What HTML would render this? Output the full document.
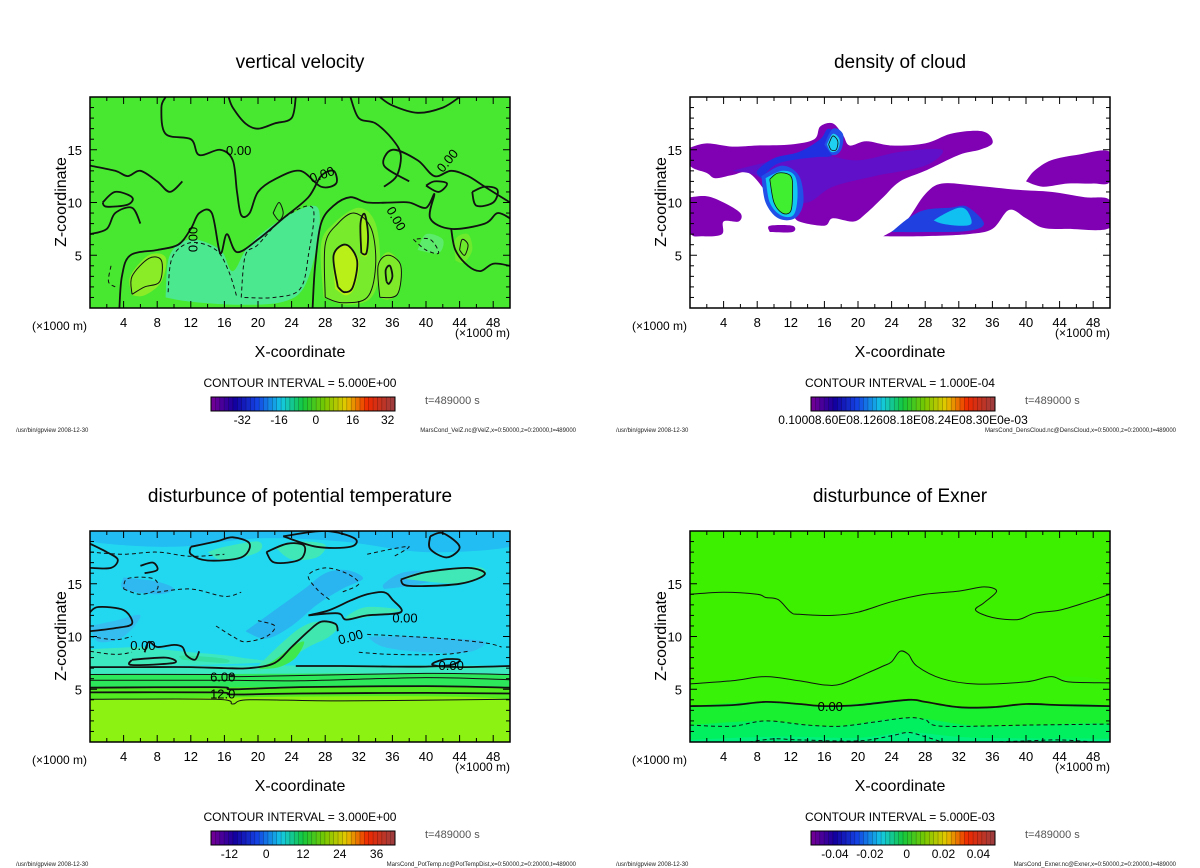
<!DOCTYPE html>
<html><head><meta charset="utf-8"><style>
body{margin:0;background:#fff;width:1200px;height:868px;overflow:hidden;font-family:"Liberation Sans",sans-serif}
svg{position:absolute;left:0;top:0}
</style></head><body>
<svg id="chart" width="1200" height="868" viewBox="0 0 1200 868" xmlns="http://www.w3.org/2000/svg"></svg>
<script>
// ---- data arrays ----
const xTicks=[4,8,12,16,20,24,28,32,36,40,44,48];
const zTicks=[5,10,15];
const titles=["vertical velocity","density of cloud","disturbunce of potential temperature","disturbunce of Exner"];
const intervals=["CONTOUR INTERVAL = 5.000E+00","CONTOUR INTERVAL = 1.000E-04","CONTOUR INTERVAL = 3.000E+00","CONTOUR INTERVAL = 5.000E-03"];
const cbLabels=[["-32","-16","0","16","32"],["0.10008.60E08.12608.18E08.24E08.30E0e-03"],["-12","0","12","24","36"],["-0.04","-0.02","0","0.02","0.04"]];
const cbLabelPos=[[0.17,0.37,0.57,0.77,0.96],[0.5],[0.1,0.3,0.5,0.7,0.9],[0.13,0.32,0.52,0.72,0.91]];
const files=["MarsCond_VelZ.nc@VelZ,x=0:50000,z=0:20000,t=489000","MarsCond_DensCloud.nc@DensCloud,x=0:50000,z=0:20000,t=489000","MarsCond_PotTemp.nc@PotTempDist,x=0:50000,z=0:20000,t=489000","MarsCond_Exner.nc@Exner,x=0:50000,z=0:20000,t=489000"];
const offsets=[[0,0],[600,0],[0,434],[600,434]];

const velFills=[
 {c:"#4ce890",p:[[9,1],[9.5,5],[12,6.5],[15.5,5.5],[17,3.5],[19,6],[23,8.5],[27,9.6],[27,6],[25.5,2],[23,0.6],[18,0.3],[12,0.6]]},
 {c:"#78ec2c",p:[[27.8,1],[27.5,6],[29,8],[32,9.5],[34,8],[34.5,4],[33.5,1],[30.5,0.3]]},
 {c:"#b8f018",p:[[29.2,1.8],[29,5],[30.5,6],[32,4.5],[31.5,2],[30.5,1.2]]},
 {c:"#a8ef1a",p:[[32.3,5],[32.1,8],[32.7,9],[33.2,7],[33,5]]},
 {c:"#7eea2a",p:[[34.5,1],[34.3,4],[35.5,5.3],[37,4],[36.7,1.5],[35.5,0.8]]},
 {c:"#8aec26",p:[[5,1.2],[4.8,3],[7,5],[9,4.8],[8.5,2.5],[6.5,1.2]]},
 {c:"#6eea2c",p:[[43.5,4.5],[43.5,6.5],[45,7],[45.5,5.5],[44.5,4.3]]},
 {c:"#5ceb6a",p:[[39,5.5],[40,7],[42,6.5],[41.5,5.2]]}
];
const velLines=[
 {d:0,w:1.8,p:[[3.5,0],[3.8,3],[4.8,5],[8,5.5],[10.5,6],[12,7.5],[13,9],[14.5,9],[15.5,5.2],[16.3,7],[17.5,5.3],[20,6.5],[23,8.5],[26,10.5],[27.5,12.5],[29,13],[29.3,11.8],[27.5,11.5],[25,13],[22,12.2],[20,11],[19,9],[18,8.8],[17.5,11],[17,14],[15.5,15],[13,14.5],[12,16],[9,16.5],[8.5,19],[9,20]]},
 {d:0,w:1.8,p:[[26.5,0],[26.8,4],[27.5,8],[29,9.7],[31,10.5],[33,10],[36,10],[38,10],[40,9.5],[41,10.8],[40.5,8.5],[43,7.5],[47,8],[48.5,9],[50,8.5]]},
 {d:0,w:1.8,p:[[50,4],[48,4.2],[46.5,3.5],[45,4],[43.5,5.5],[43,7.5]]},
 {d:0,w:1.8,p:[[0,13.5],[3,13],[4.5,12.5],[6,13],[8,12],[9.5,11],[11,12]]},
 {d:0,w:1.8,p:[[31,20],[32,18],[34,17.5],[36,16],[37,14.5],[36.5,12.5],[35,11.5]]},
 {d:0,w:1.8,p:[[50,10],[47,11.5],[45,12.5],[43,13],[41,12.5],[39,14],[36,15],[35,13.5],[38,12]]},
 {d:0,w:1.8,p:[[24.5,20],[24,18],[22,17.5],[20,17],[18.5,17.5],[17,19],[16.5,20]]},
 {d:0,w:1.8,p:[[44,20],[42,19],[39,18.5],[36,19.2],[34.5,20]]},
 {d:0,w:1.8,p:[[0,7],[2,7.5],[3,9],[5,9.5],[6,8]]},
 {d:0,w:1.8,p:[[1.5,10],[3,11],[5,10.5],[4.5,9.8],[2,9.6],[1.5,10]]},
 {d:0,w:1.8,p:[[29.5,2],[29,5],[30.5,6],[31.8,4.5],[31.3,2],[30.3,1.5],[29.5,2]]},
 {d:0,w:1.8,p:[[32.3,5.2],[32.2,8],[32.7,8.9],[33.1,7],[32.9,5.2],[32.3,5.2]]},
 {d:0,w:1.8,p:[[35.3,2.5],[35.2,3.6],[35.7,4],[36,3],[35.6,2.3],[35.3,2.5]]},
 {d:0,w:1.8,p:[[40,11.6],[41,12],[42.5,11.8],[41.5,11],[40,11.6]]},
 {d:0,w:1.8,p:[[45.5,11],[47,11.5],[48.5,11.2],[48,10],[46,9.7],[45.5,11]]},
 {d:1,w:1,p:[[9.3,1.5],[9.8,4.8],[12,6.2],[15,5.5],[16.5,3.5],[17.5,1]]},
 {d:1,w:1,p:[[18,1],[18.5,5],[20,6],[23,8.5],[26.5,9.5],[26,5],[25,1.8],[22,1],[18,1]]},
 {d:1,w:1,p:[[38.5,6.5],[40,5.5],[41.5,5.2],[40.5,6.5],[38.5,6.5]]},
 {d:1,w:1,p:[[2.5,4],[2.2,2.5],[3,2]]},
 {d:0,w:1,p:[[5,1.3],[5,3],[7,4.7],[8.5,4.5],[8.3,2.5],[6.5,2],[5,1.3]]},
 {d:0,w:1,p:[[28,1],[28,6],[29.5,8],[31.5,9],[33.5,7.5],[34,4],[33,1],[30,0.5],[28,1]]},
 {d:0,w:1,p:[[34.5,1],[34.3,4],[35.5,5],[37,4],[36.6,1.3],[34.5,1]]},
 {d:0,w:1,p:[[44,5.5],[44.3,6.5],[45,6],[44.6,5],[44,5.5]]},
 {d:0,w:1,p:[[21.8,9],[22.5,10],[23,9],[22.5,8.3],[21.8,9]]}
];
const velLabels=[[17.7,15,"0.00",0],[27.6,12.7,"0.00",-20],[12.2,6.5,"0.00",-90],[36.5,8.5,"0.00",60],[42.5,14,"0.00",-50]];

const cloudFills=[
 {c:"#8000b4",p:[[0,15.2],[0,13.5],[2,12.8],[3,12.3],[5,12.6],[7,12.8],[9,11],[10,9.3],[12,9],[13,8.2],[16,7.8],[17,8.5],[19.5,8.2],[21,9],[23,10.5],[25,12],[28,13],[32,14.5],[34.5,15],[36,15.6],[35.5,16.5],[34,16.8],[31,16.5],[28,15.6],[24,15.4],[21,15.8],[19,15.4],[18.2,16.4],[17,17.5],[15.5,17.2],[14.8,16],[12,15.5],[8,15.4],[5,15.3],[2,15.6]]},
 {c:"#8000b4",p:[[0,10.5],[2,10.6],[4,10],[6,9],[5.8,8.2],[4,8.2],[3.8,7],[1.5,6.8],[0,7.2]]},
 {c:"#8000b4",p:[[9.5,7.2],[9.5,7.8],[12.2,7.8],[12.2,7.2]]},
 {c:"#8000b4",p:[[23,6.8],[24.5,7.5],[26,8.5],[28,10.8],[30,11.8],[34,11.6],[39,11.2],[43,11],[47,10.5],[50,10.2],[50,7.6],[45,7.5],[42,7.6],[40,8.5],[38,9.3],[36,7.5],[33,7],[27,6.8]]},
 {c:"#8000b4",p:[[40,12],[41,13],[43,14],[46,14.5],[50,14.8],[50,12],[48,11.8],[45,11.8],[42,11.5]]},
 {c:"#6010c8",p:[[5,13],[9,13.8],[13,14.5],[16,14.5],[20,14],[25,14.8],[30,15],[28,13.5],[22,12.5],[17,11.5],[14,10],[11,10.5],[8,12.5]]},
 {c:"#2030e0",p:[[8.5,12.3],[10,13.5],[12,14],[15,14.3],[17,14.5],[18,16],[16.5,17],[15.5,16],[13,14.8],[10,14.2],[8,13]]},
 {c:"#2050e8",p:[[8.5,12.5],[9,10],[10.5,8.5],[12.5,8.5],[13.5,10],[13,12.5],[11,13.5]]},
 {c:"#10c8f0",p:[[9,12.3],[9.5,10],[10.8,8.8],[12.3,8.8],[12.8,10.5],[12.5,12.5],[11,13]]},
 {c:"#40f030",p:[[9.5,12.2],[10,10],[11,9],[12,9.2],[12.2,11],[12,12.5],[10.5,12.8]]},
 {c:"#2050e8",p:[[16,15.5],[17,17],[18.2,16.5],[18,15],[17,14.5]]},
 {c:"#20d0f0",p:[[16.3,15.5],[17,16.5],[17.8,16],[17.6,15],[16.8,14.8]]},
 {c:"#2040e0",p:[[24,7.2],[26,8.5],[28,9.3],[31,9.5],[33,9.6],[35,8],[33,7.3],[28,7.2]]},
 {c:"#10c0f0",p:[[29,8.3],[30,8.8],[32,9.5],[33,9.2],[33.5,8],[32,7.8],[30,8]]}
];
const cloudLines=[
 {d:0,w:0.8,p:[[9.5,12.2],[10,10],[11,9],[12,9.2],[12.2,11],[12,12.5],[10.5,12.8],[9.5,12.2]]},
 {d:0,w:0.8,p:[[16.5,15.5],[17,16.3],[17.6,15.8],[17.4,15],[16.8,15],[16.5,15.5]]}
];

const ptFills=[
 {c:"#22bdf2",p:[[0,20],[50,20],[50,18.5],[40,18],[30,19],[20,19.3],[10,18.5],[0,19]]},
 {c:"#2ab4f0",p:[[18.5,10.5],[22,12.5],[25.5,14.5],[28,16],[30.5,16.3],[32.5,15.5],[30,14.5],[27,13],[24,11],[21,9.8]]},
 {c:"#30b8f0",p:[[4,15.6],[8,15.2],[10,14.5],[8,14],[4,14.5]]},
 {c:"#30b8f0",p:[[35,14.5],[38,14.8],[42,15.5],[40,16.2],[37,16],[35,15]]},
 {c:"#35bdf0",p:[[33,10],[38,10],[43,9.8],[47,9.5],[45,8.5],[40,8.5],[35,9]]},
 {c:"#35bdf0",p:[[0,11],[3,11.5],[6,12],[4,10],[1,9.5]]},
 {c:"#3ce8c0",p:[[0,8.8],[6,9],[8.5,8.8],[12,8.5],[15,8.3],[18,8],[20,7.5],[0,7.2]]},
 {c:"#36e0a0",p:[[11,7.8],[16,7.5],[16,7.9],[11,8.2]]},
 {c:"#3ce8c0",p:[[0,7.2],[50,7.2],[50,6.4],[0,6.4]]},
 {c:"#2de85a",p:[[0,6.4],[50,6.4],[50,5.15],[0,5.15]]},
 {c:"#52eb22",p:[[0,5.15],[50,5.15],[50,4.05],[0,4.05]]},
 {c:"#8cf212",p:[[0,4.05],[50,4.05],[50,0],[0,0]]},
 {c:"#40e8b0",p:[[19.5,6.8],[21,8],[23,9.5],[25,10.8],[27,11.4],[29.5,11.1],[28.5,10],[26,9],[23,7.6],[20.5,6.8]]},
 {c:"#40e850",p:[[20,6.9],[22,7.8],[24,9],[25.5,9.5],[24.5,8],[22.5,7.1]]},
 {c:"#40e8b8",p:[[14,18],[16,18.5],[20,19],[20,18],[16,17.2]]},
 {c:"#40e8b8",p:[[22,18.5],[25,19],[28,18.7],[27,17.5],[24,17.3]]},
 {c:"#40e8b8",p:[[37,15.5],[40,16.2],[46,16.6],[47,15.8],[44,15]]},
 {c:"#40e8b8",p:[[30.5,11.5],[34,12],[37,12.5],[33,12.8],[30.7,12]]},
 {c:"#40e8b8",p:[[5,7.8],[9,8],[10,7.5],[5,7.3]]}
];
const ptLines=[
 {d:0,w:1.8,p:[[0,7.1],[6,7.1],[12,7.1],[16,7],[19,7],[22,7.5],[24,9],[26,10.5],[27.5,11.4],[29.2,11.2],[29.5,10.5]]},
 {d:0,w:1.8,p:[[24.5,7.2],[30,7.2],[36,7.15],[40,7.15],[43,7.3],[44,7.8],[42,7.8],[40.8,7.3],[44,7.1],[50,7.2]]},
 {d:0,w:1.8,p:[[6.5,8.5],[7,9.5],[8,9],[10,9.2],[11,9],[11.5,8.2],[12.5,7.8],[13,8.6]]},
 {d:0,w:1.8,p:[[5,7.8],[9,8],[10,7.5],[5,7.3],[5,7.8]]},
 {d:0,w:1.8,p:[[0,10.5],[3,10.8],[5,11.2],[4,12.5],[1,12.8],[0,12.3]]},
 {d:0,w:1.8,p:[[26,12],[28.5,12.5],[31,13.4],[33,14],[35,14.2],[36,13.5],[37,12.3],[33,12],[30.5,11.6],[29.5,12.2],[26,12]]},
 {d:0,w:1.8,p:[[12,18.5],[15,19],[17,19.4],[19,18.8],[18,17.5],[14,17.2],[12,17.8],[12,18.5]]},
 {d:0,w:1.8,p:[[21,18],[23.5,18.8],[25.5,18.6],[25,17.3],[22,17],[21,18]]},
 {d:0,w:1.8,p:[[23,19.5],[28,20],[31.5,19.3],[31,18.5],[27,18.5],[23,19.5]]},
 {d:0,w:1.8,p:[[37,15.4],[40,16.1],[45,16.5],[47,15.9],[44,15],[38,14.8],[37,15.4]]},
 {d:0,w:1.8,p:[[40.5,19.5],[42,19.8],[44,18.5],[42.5,17.5],[40.5,18.3],[40.5,19.5]]},
 {d:0,w:1.8,p:[[0,18.8],[2,18],[3.3,17.3],[2.5,16.5],[0,16.5]]},
 {d:0,w:1.8,p:[[6,16.7],[7.5,17],[8,16.3],[6.5,16]]},
 {d:0,w:1,p:[[0,6.4],[16,6.4],[17,6.2],[25,6.3],[40,6.5],[50,6.4]]},
 {d:0,w:1,p:[[0,5.85],[16,5.85],[25,5.8],[40,6.1],[50,5.9]]},
 {d:0,w:1.8,p:[[0,5.15],[15,5.2],[17,5],[25,5.2],[40,5.3],[50,5.15]]},
 {d:0,w:1.8,p:[[0,4.7],[15,4.7],[17,4.5],[25,4.6],[40,4.65],[50,4.6]]},
 {d:0,w:1,p:[[0,4.05],[15,4.05],[17,3.6],[19,4],[30,3.9],[50,4.05]]},
 {d:1,w:1,p:[[0,18],[4,17.8],[8,18],[12,17.6],[16,17.8]]},
 {d:1,w:1,p:[[28.5,13.5],[27,14.5],[26,15.8],[28,16.5],[30.5,16],[32,15],[30,14.2]]},
 {d:1,w:1,p:[[4,14.5],[6,14],[8,14.5],[7.5,15.5],[4.5,15.5],[4,14.5]]},
 {d:1,w:1,p:[[8,14.2],[12,14.5],[16,13.8],[18,14.2]]},
 {d:1,w:1,p:[[15,11],[17,10],[18.5,9.5],[21,10],[22,11],[20,11.5]]},
 {d:1,w:1,p:[[33,10.2],[38,10],[42,9.8],[47,9.4],[49,9]]},
 {d:1,w:1,p:[[32,8.5],[36,8.3],[42,8.3],[45,8.6]]},
 {d:1,w:1,p:[[0,8.6],[3,8.3],[5,8.5]]},
 {d:1,w:1,p:[[0,10],[3,9.7],[5,10]]},
 {d:1,w:1,p:[[33,17.8],[36,18.3],[38,18.5],[36,17.5]]}
];
const ptLabels=[[6.3,9.2,"0.00",0],[37.5,11.8,"0.00",0],[31,10,"0.00",-15],[43,7.3,"0.00",0],[15.8,6.2,"6.00",0],[15.8,4.6,"12.0",0]];

const exFills=[
 {c:"#3cf000",p:[[0,20],[50,20],[50,0],[0,0]]},
 {c:"#38f208",p:[[0,5.5],[9,6.2],[16,5.4],[22,6.8],[25,8.7],[28,6.8],[33,5.5],[45,6.2],[50,5.5],[50,3.5],[0,3.5]]},
 {c:"#18f030",p:[[0,3.4],[8,3.8],[16,3.4],[25,4],[32,3.3],[50,3.4],[50,0],[0,0]]},
 {c:"#00f060",p:[[0,1.6],[9,2],[17,1.5],[26,2.3],[35,1.5],[50,1.7],[50,0],[0,0]]},
 {c:"#00f080",p:[[0,0.2],[10,0.5],[20,0.4],[26,0.9],[34,0.4],[50,0.3],[50,0],[0,0]]}
];
const exLines=[
 {d:0,w:1,p:[[0,14],[4,14.2],[8,14],[9,13.7],[10.5,13.5],[12,12.3],[13,12.1],[17,12],[20,12.3],[24,13.3],[28,14],[32,14.3],[35,14.7],[36.5,14.3],[35,13.2],[34,12.5],[36,11.8],[39,11.6],[41,12.2],[44,12.5],[47,13.2],[50,14]]},
 {d:0,w:1,p:[[0,5.5],[5,5.8],[9,6.2],[13,5.8],[16,5.4],[18,5.5],[21,6.5],[23,7.2],[24,7.6],[25,8.6],[26,8.3],[27,7.2],[30,6],[34,5.5],[40,5.7],[43,6.2],[45,5.7],[50,5.6]]},
 {d:0,w:1.8,p:[[0,3.4],[5,3.5],[9,3.8],[13,3.6],[16,3.4],[20,3.5],[26,4],[28,3.8],[32,3.3],[36,3.3],[40,3.6],[44,3.5],[50,3.4]]},
 {d:1,w:1,p:[[0,1.6],[5,1.5],[9,2],[14,1.6],[18,1.5],[22,1.9],[26,2.3],[28,2.1],[30,1.5],[40,1.6],[50,1.7]]},
 {d:1,w:1,p:[[7,0],[10,0.3],[13,0.2],[20,0.1],[24,0.6],[26,0.9],[28,0.5],[30,0]]},
 {d:1,w:1,p:[[36,0],[40,0.1],[44,0.2],[48,0]]}
];
const exLabels=[[16.7,3.4,"0.00",0]];

const panels=[
 {bg:"#48e830",fills:velFills,lines:velLines,labels:velLabels},
 {bg:"#ffffff",fills:cloudFills,lines:cloudLines,labels:[]},
 {bg:"#22d8f0",fills:ptFills,lines:ptLines,labels:ptLabels},
 {bg:"#3cf000",fills:exFills,lines:exLines,labels:exLabels}
];

const NS="http://www.w3.org/2000/svg";
const svg=document.getElementById('chart');
function mk(tag,attrs,parent){const e=document.createElementNS(NS,tag);for(const k in attrs)e.setAttribute(k,attrs[k]);(parent||svg).appendChild(e);return e;}
function smooth(pts,closed){
 let d="M"+pts[0][0].toFixed(1)+","+pts[0][1].toFixed(1);
 const n=pts.length;
 for(let i=0;i<n-1;i++){
  const p0=pts[Math.max(i-1,0)],p1=pts[i],p2=pts[i+1],p3=pts[Math.min(i+2,n-1)];
  const c1=[p1[0]+(p2[0]-p0[0])/6,p1[1]+(p2[1]-p0[1])/6],c2=[p2[0]-(p3[0]-p1[0])/6,p2[1]-(p3[1]-p1[1])/6];
  d+="C"+c1[0].toFixed(1)+","+c1[1].toFixed(1)+" "+c2[0].toFixed(1)+","+c2[1].toFixed(1)+" "+p2[0].toFixed(1)+","+p2[1].toFixed(1);
 }
 return d+(closed?"Z":"");
}
function rainbow(t){
 const stops=[[0,[110,0,150]],[0.12,[20,0,160]],[0.25,[20,70,230]],[0.38,[20,200,230]],[0.5,[20,200,60]],[0.62,[120,200,0]],[0.74,[230,200,0]],[0.86,[240,40,0]],[1,[160,60,60]]];
 for(let i=0;i<stops.length-1;i++){if(t<=stops[i+1][0]){const a=stops[i],b=stops[i+1],f=(t-a[0])/(b[0]-a[0]);return "rgb("+a[1].map((v,k)=>Math.round(v+(b[1][k]-v)*f)).join(",")+")";}}
 return "rgb(160,60,60)";
}
panels.forEach((P,pi)=>{
 const [ox,oy]=offsets[pi];
 const L=ox+90,R=ox+510,T=oy+97,B=oy+308;
 const sx=x=>L+(x/50)*(R-L), sz=z=>B-(z/20)*(B-T);
 const g=mk('g',{},svg);
 
 
 const t=mk('text',{x:ox+300,y:oy+68,'text-anchor':'middle','font-size':19,fill:'#000'},g);t.textContent=titles[pi];
 
 const clipId='clip'+pi;
 const cp=mk('clipPath',{id:clipId},g);mk('rect',{x:L,y:T,width:R-L,height:B-T},cp);
 const plot=mk('g',{'clip-path':'url(#'+clipId+')'},g);
 
 const bgr=mk('rect',{x:L,y:T,width:R-L,height:B-T,fill:P.bg},plot);
 
 P.fills.forEach(f=>{
  const e=mk('path',{d:smooth(f.p.map(q=>[sx(q[0]),sz(q[1])]).concat([[sx(f.p[0][0]),sz(f.p[0][1])]]),true),fill:f.c,stroke:'none'},plot);
  
 });
 P.lines.forEach(l=>{
  const e=mk('path',{d:smooth(l.p.map(q=>[sx(q[0]),sz(q[1])]),false),fill:'none',stroke:'#111','stroke-width':l.w,'stroke-dasharray':l.d?'4,3':'none'},plot);
  
 });
 P.labels.forEach(lb=>{
  const x=sx(lb[0]),y=sz(lb[1]);
  const e=mk('text',{x:x,y:y+5,'font-size':13,fill:'#000','text-anchor':'middle',transform:'rotate('+lb[3]+' '+x+' '+y+')'},plot);
  e.textContent=lb[2];
 });
 const fr=mk('rect',{x:L,y:T,width:R-L,height:B-T,fill:'none',stroke:'#000','stroke-width':1.5},g);
 
 for(let v=2;v<50;v+=2){const big=v%4===0;const len=big?7:4;
  mk('line',{x1:sx(v),x2:sx(v),y1:B,y2:B-len,stroke:'#000'},g);mk('line',{x1:sx(v),x2:sx(v),y1:T,y2:T+len,stroke:'#000'},g);}
 for(let v=1;v<20;v++){const big=v%5===0;const len=big?7:4;
  mk('line',{x1:L,x2:L+len,y1:sz(v),y2:sz(v),stroke:'#000'},g);mk('line',{x1:R,x2:R-len,y1:sz(v),y2:sz(v),stroke:'#000'},g);}
 xTicks.forEach(v=>{const e=mk('text',{x:sx(v),y:B+19,'text-anchor':'middle','font-size':13},g);e.textContent=v;
  });
 zTicks.forEach(v=>{const e=mk('text',{x:L-8,y:sz(v)+5,'text-anchor':'end','font-size':13},g);e.textContent=v;
  });
 const u1=mk('text',{x:ox+32,y:oy+330,'font-size':12},g);u1.textContent='(×1000 m)';
 
 const u2=mk('text',{x:ox+455,y:oy+337,'font-size':12},g);u2.textContent='(×1000 m)';
 
 const xl=mk('text',{x:ox+300,y:oy+357,'text-anchor':'middle','font-size':16},g);xl.textContent='X-coordinate';
 
 const zl=mk('text',{x:ox+66,y:oy+202,'text-anchor':'middle','font-size':16,transform:'rotate(-90 '+(ox+66)+' '+(oy+202)+')'},g);zl.textContent='Z-coordinate';
 
 const ci=mk('text',{x:ox+300,y:oy+387,'text-anchor':'middle','font-size':12},g);ci.textContent=intervals[pi];
 
 const cb=mk('g',{},g);
 const cx0=ox+211,cw=184,cy0=oy+397,ch=14,ns=42;
 for(let i=0;i<ns;i++){mk('rect',{x:cx0+i*cw/ns,y:cy0,width:cw/ns+0.3,height:ch,fill:rainbow(i/(ns-1))},cb);
  mk('line',{x1:cx0+i*cw/ns,x2:cx0+i*cw/ns,y1:cy0,y2:cy0+ch,stroke:'rgba(0,0,0,0.35)','stroke-width':0.6},cb);}
 mk('rect',{x:cx0,y:cy0,width:cw,height:ch,fill:'none',stroke:'#000'},cb);
 cbLabels[pi].forEach((s,i)=>{const e=mk('text',{x:cx0+cbLabelPos[pi][i]*cw,y:oy+424,'text-anchor':'middle','font-size':12},cb);e.textContent=s;
  });
 const tt=mk('text',{x:ox+425,y:oy+404,'font-size':11,fill:'#555'},g);tt.textContent='t=489000 s';
 
 const f1=mk('text',{x:ox+16,y:oy+432,'font-size':6,fill:'#222'},g);f1.textContent='/usr/bin/gpview   2008-12-30';
 
 const f2=mk('text',{x:ox+576,y:oy+432,'font-size':6,fill:'#222','text-anchor':'end'},g);f2.textContent=files[pi];
 
});
</script>
</body></html>
